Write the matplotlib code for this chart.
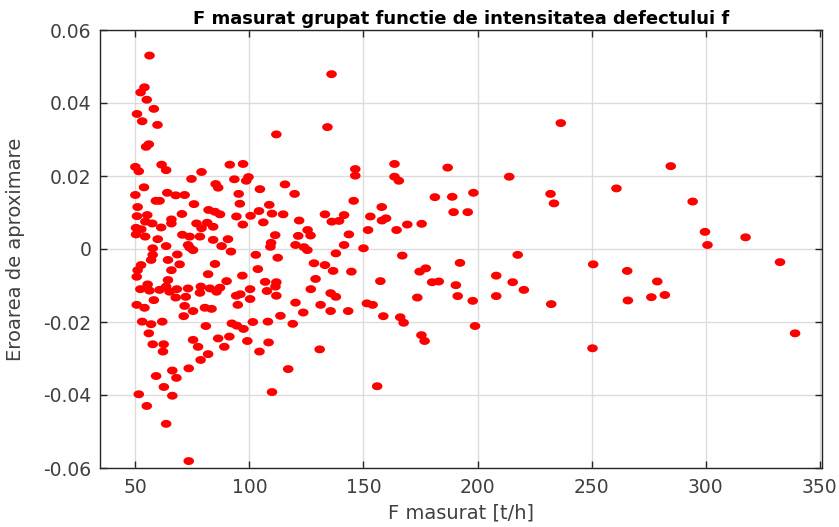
import numpy as np
import matplotlib
matplotlib.use("Agg")
import matplotlib.pyplot as plt
from matplotlib.path import Path

plt.rcParams['font.family'] = ['DejaVu Sans']

# F masurat [t/h]
f_measured = [
    56.2, 54.0, 52.3, 55.0, 58.1, 50.7, 53.0, 59.7, 55.9, 54.7, 50.0, 51.5, 61.5, 63.5, 74.6, 79.0,
    53.8, 50.0, 59.0, 60.6, 64.0, 67.7, 71.6, 75.7, 85.2, 86.3, 51.0, 50.7, 55.2, 54.4, 57.4, 50.3,
    52.6, 50.3, 54.3, 61.3, 65.8, 65.8, 70.4, 82.1, 84.9, 76.8, 81.5, 79.0, 84.1, 70.6, 73.8, 78.3,
    84.1, 59.8, 57.6, 63.5, 73.1,
    73.8, 75.3, 68.4, 57.6, 56.9, 64.3, 69.4, 52.5, 65.8, 51.0, 50.6, 81.9, 84.9, 64.3, 55.4, 63.5,
    52.2, 56.2, 60.6, 65.0, 68.2, 73.1, 78.7, 82.7, 78.3, 85.6, 67.7, 72.1, 58.1, 50.6, 54.0, 71.6,
    75.3, 80.5, 83.4, 71.2, 53.0, 56.9, 61.8, 80.9, 55.9, 75.3, 86.3, 57.6, 62.4, 62.1, 77.5, 81.9,
    78.6, 73.4, 66.2, 59.1, 68.0, 62.5, 51.5, 66.2, 55.0, 63.5, 73.4,
    136.0, 134.2, 111.8, 91.4, 97.2, 93.4, 99.6, 98.6, 115.6, 119.8, 104.6, 95.3, 95.8, 108.7, 87.1,
    104.2, 100.5, 94.3, 109.9, 114.8, 133.1, 136.1, 121.8, 106.1, 97.1, 125.5, 126.8, 111.3, 121.4,
    90.6, 109.5, 120.2, 123.9, 87.8, 109.2,
    91.9, 102.8, 112.4, 125.4, 103.7, 128.3, 133.1, 136.7, 96.9, 129.0, 90.0, 106.9, 111.8, 87.1,
    94.2, 96.0, 100.3, 107.7, 111.4, 111.8, 100.3, 94.9, 126.9, 135.6, 120.2, 131.2, 135.6, 123.6,
    113.6, 92.3, 94.5, 97.4, 101.5, 108.1, 119.0, 91.2, 89.0, 99.1, 108.4, 104.4, 130.8, 117.0, 109.9,
    236.5, 146.4, 146.4, 163.6, 163.6, 165.5, 186.9, 213.9, 145.7, 181.3, 188.9, 198.2, 232.0, 233.5,
    189.5, 195.7, 158.0, 153.0, 141.5, 159.9, 158.1, 139.3, 169.2, 175.5, 164.5, 152.0, 143.6, 141.5,
    150.0,
    137.9, 167.0, 192.3, 217.6, 144.7, 157.4, 174.6, 177.3, 180.1, 183.0, 190.5, 191.3, 197.9, 208.2,
    215.4, 220.3, 208.2, 232.3, 173.6, 137.9, 143.3, 151.5, 154.0, 158.7, 166.1, 167.6, 175.4, 176.8,
    198.9, 156.0,
    284.7, 260.9, 294.3, 299.7, 300.8, 317.5,
    250.7, 265.6, 278.8, 265.9, 276.2, 282.1, 332.6, 339.2, 250.4,
]

# Eroarea de aproximare
approx_error = [
    0.0530, 0.0443, 0.0429, 0.0409, 0.0384, 0.0370, 0.0350, 0.0340, 0.0287, 0.0280, 0.0225, 0.0213,
    0.0231, 0.0216, 0.0192, 0.0211, 0.0169, 0.0148, 0.0132, 0.0132, 0.0154, 0.0147, 0.0148, 0.0123,
    0.0178, 0.0168, 0.0115, 0.0090, 0.0093, 0.0075, 0.0070, 0.0058, 0.0054, 0.0040, 0.0034, 0.0059,
    0.0081, 0.0070, 0.0096, 0.0107, 0.0102, 0.0070, 0.0072, 0.0057, 0.0061, 0.0039, 0.0034, 0.0034,
    0.0025, 0.0027, 0.0002, 0.0008, 0.0011,
    0.0004, -0.0003, -0.0015, -0.0016, -0.0030, -0.0030, -0.0042, -0.0044, -0.0058, -0.0058, -0.0076,
    -0.0069, -0.0041, -0.0085, -0.0097, -0.0103, -0.0110, -0.0114, -0.0112, -0.0117, -0.0110, -0.0108,
    -0.0103, -0.0108, -0.0120, -0.0117, -0.0133, -0.0131, -0.0140, -0.0153, -0.0161, -0.0156, -0.0170,
    -0.0161, -0.0164, -0.0184, -0.0199, -0.0206, -0.0199, -0.0211, -0.0231, -0.0249, -0.0245, -0.0261,
    -0.0261, -0.0281, -0.0268, -0.0288, -0.0304, -0.0327, -0.0333, -0.0348, -0.0353, -0.0378, -0.0398,
    -0.0402, -0.0430, -0.0479, -0.0581,
    0.0479, 0.0334, 0.0314, 0.0231, 0.0233, 0.0191, 0.0197, 0.0187, 0.0177, 0.0151, 0.0164, 0.0151,
    0.0124, 0.0121, 0.0095, 0.0104, 0.0091, 0.0089, 0.0097, 0.0095, 0.0095, 0.0075, 0.0078, 0.0073,
    0.0067, 0.0052, 0.0037, 0.0038, 0.0036, 0.0027, 0.0017, 0.0011, 0.0005, 0.0008, 0.0006,
    -0.0007, -0.0016, -0.0024, -0.0003, -0.0055, -0.0039, -0.0044, -0.0060, -0.0073, -0.0082, -0.0088,
    -0.0090, -0.0091, -0.0106, -0.0128, -0.0124, -0.0110, -0.0115, -0.0103, -0.0128, -0.0137, -0.0153,
    -0.0110, -0.0121, -0.0147, -0.0153, -0.0170, -0.0174, -0.0183, -0.0204, -0.0210, -0.0219, -0.0200,
    -0.0199, -0.0205, -0.0240, -0.0268, -0.0252, -0.0256, -0.0281, -0.0275, -0.0329, -0.0392,
    0.0345, 0.0219, 0.0201, 0.0233, 0.0198, 0.0187, 0.0223, 0.0198, 0.0132, 0.0142, 0.0143, 0.0154,
    0.0151, 0.0125, 0.0101, 0.0101, 0.0115, 0.0089, 0.0093, 0.0084, 0.0078, 0.0077, 0.0067, 0.0069,
    0.0052, 0.0052, 0.0040, 0.0011, 0.0002,
    -0.0012, -0.0018, -0.0038, -0.0016, -0.0062, -0.0088, -0.0062, -0.0053, -0.0091, -0.0089, -0.0099,
    -0.0129, -0.0142, -0.0073, -0.0091, -0.0112, -0.0129, -0.0151, -0.0133, -0.0131, -0.0170, -0.0149,
    -0.0153, -0.0184, -0.0187, -0.0202, -0.0236, -0.0252, -0.0211, -0.0376,
    0.0227, 0.0166, 0.0130, 0.0047, 0.0011, 0.0032,
    -0.0042, -0.0060, -0.0089, -0.0141, -0.0132, -0.0126, -0.0036, -0.0231, -0.0272,
]

x_ticks = [50, 100, 150, 200, 250, 300, 350]
x_tick_labels = ["50", "100", "150", "200", "250", "300", "350"]
y_ticks = [-0.06, -0.04, -0.02, 0, 0.02, 0.04, 0.06]
y_tick_labels = ["-0.06", "-0.04", "-0.02", "0", "0.02", "0.04", "0.06"]

# elliptical marker (wider than tall)
t = np.linspace(0, 2 * np.pi, 40)
ell = Path(np.column_stack([np.cos(t), 0.75 * np.sin(t)]), closed=True)

fig = plt.figure(figsize=(8.39, 5.27), dpi=100)
ax = fig.add_axes([100 / 839, 1 - 468 / 527, 722 / 839, 438 / 527])

ax.scatter(f_measured, approx_error, s=58, marker=ell, color='#ff0000', edgecolors='none', zorder=3)

ax.set_xlim(34.5, 351)
ax.set_ylim(-0.06, 0.06)
ax.set_xticks(x_ticks)
ax.set_xticklabels(x_tick_labels)
ax.set_yticks(y_ticks)
ax.set_yticklabels(y_tick_labels)
ax.grid(True, color='#dcdcdc', linewidth=1.0)
ax.set_axisbelow(True)
ax.tick_params(direction='in', length=5, width=1, top=True, right=True,
               labelsize=13.5, labelcolor='#404040', color='#262626')
ax.tick_params(axis='x', pad=7)
ax.tick_params(axis='y', pad=6)
for s in ax.spines.values():
    s.set_color('#262626')
    s.set_linewidth(1.0)

ax.set_title('F masurat grupat functie de intensitatea defectului f',
             fontsize=13, fontweight='bold', pad=4.5)
ax.set_xlabel('F masurat [t/h]', fontsize=14, color='#404040', labelpad=5)
ax.set_ylabel('Eroarea de aproximare', fontsize=14, color='#404040', labelpad=13)

fig.savefig('out.png', dpi=100)
